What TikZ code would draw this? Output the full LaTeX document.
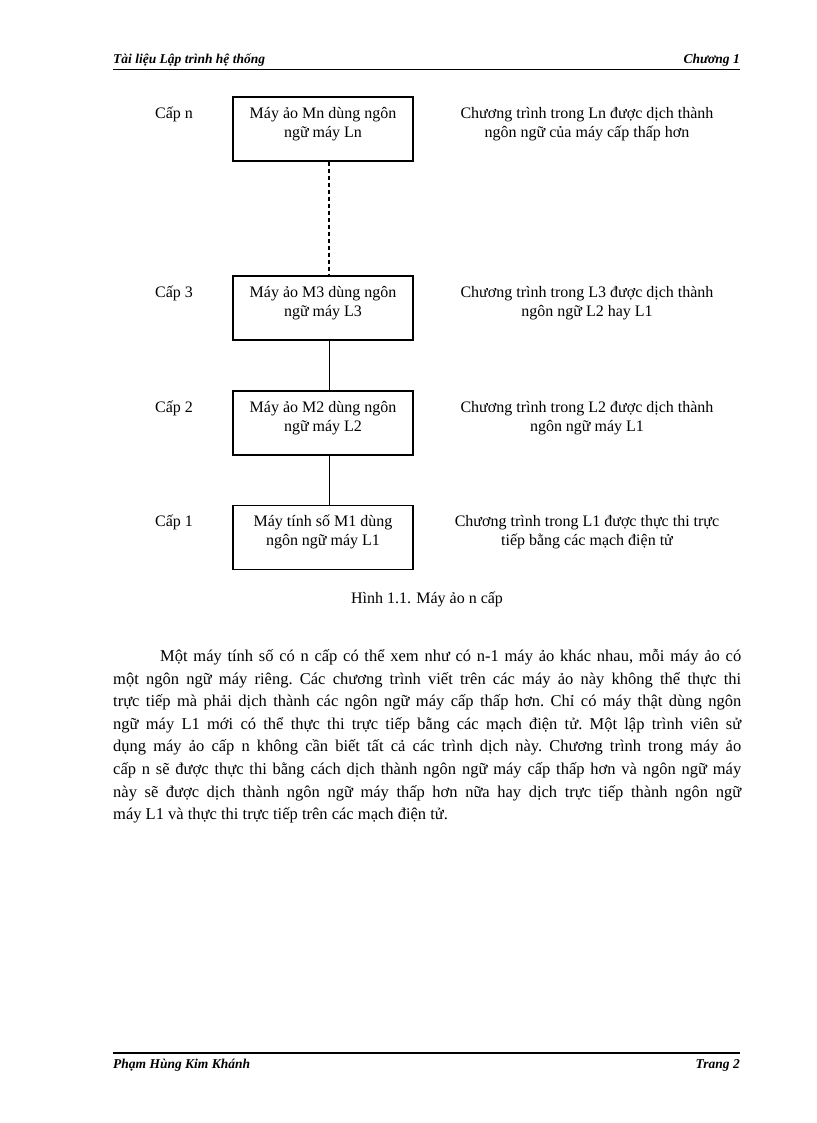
\documentclass[tikz,border=0pt]{standalone}
\usepackage{fontspec}
\setmainfont{Liberation Serif}
\newcommand\twolines[2]{\raisebox{5pt}[\height][\depth]{\begin{tabular}{@{}c@{}}#1\\#2\end{tabular}}}
\begin{document}
\begin{tikzpicture}[x=1pt,y=-1pt,
  box/.style={draw,line width=1.4pt,minimum width=180pt,minimum height=64pt,inner sep=0pt,align=center,font=\fontsize{16}{19.2}\selectfont},
  lvl/.style={anchor=west,inner sep=0pt,font=\fontsize{16}{19.5}\selectfont},
  desc/.style={align=center,inner sep=0pt,font=\fontsize{16}{19.5}\selectfont},
  hdr/.style={inner sep=0pt,font=\fontsize{13.5}{16}\selectfont\bfseries\itshape},
  link/.style={line width=1pt}]
\useasboundingbox (0,0) rectangle (816,1123);
% header
\node[hdr,anchor=west] (hl) at (113,60) {Tài liệu Lập trình hệ thống};
\node[hdr,anchor=east] (hr) at (740,60) {Chương 1};
\coordinate (hrA) at (113,69.5);
\coordinate (hrB) at (740,69.5);
\draw[line width=1.2pt] (hrA) -- (hrB);
% boxes
\node[box] (bn) at (323,129) {\twolines{Máy ảo Mn dùng ngôn}{ngữ máy Ln}};
\node[box] (b3) at (323,308) {\twolines{Máy ảo M3 dùng ngôn}{ngữ máy L3}};
\node[box] (b2) at (323,423) {\twolines{Máy ảo M2 dùng ngôn}{ngữ máy L2}};
\node[box] (b1) at (323,537.5) {\twolines{Máy tính số M1 dùng}{ngôn ngữ máy L1}};
\draw[line width=1.6pt,dash pattern=on 4pt off 3pt] ([xshift=6pt]bn.south) -- ([xshift=6pt]b3.north);
\draw[link] ([xshift=6pt]b3.south) -- ([xshift=6pt]b2.north);
\draw[link] ([xshift=6pt]b2.south) -- ([xshift=6pt]b1.north);
% levels
\node[lvl] (ln) at (155,114) {Cấp n};
\node[lvl] (l3) at (155,293) {Cấp 3};
\node[lvl] (l2) at (155,408) {Cấp 2};
\node[lvl] (l1) at (155,522) {Cấp 1};
% descriptions
\node[desc] (dn) at (587,124) {Chương trình trong Ln được dịch thành\\ngôn ngữ của máy cấp thấp hơn};
\node[desc] (d3) at (587,303) {Chương trình trong L3 được dịch thành\\ngôn ngữ L2 hay L1};
\node[desc] (d2) at (587,418) {Chương trình trong L2 được dịch thành\\ngôn ngữ máy L1};
\node[desc] (d1) at (587,532) {Chương trình trong L1 được thực thi trực\\tiếp bằng các mạch điện tử};
% caption
\node[desc] (cap) at (427,599) {Hình 1.1. Máy ảo n cấp};
% paragraph
\node[anchor=north west,inner sep=0pt,text width=628pt,align=justify,font=\fontsize{16.5}{22.6}\selectfont] (par) at (113,649) {\frenchspacing\parindent=47pt\indent Một máy tính số có n cấp có thể xem như có n-1 máy ảo khác nhau, mỗi máy ảo có\linebreak
một ngôn ngữ máy riêng. Các chương trình viết trên các máy ảo này không thể thực thi\linebreak
trực tiếp mà phải dịch thành các ngôn ngữ máy cấp thấp hơn. Chỉ có máy thật dùng ngôn\linebreak
ngữ máy L1 mới có thể thực thi trực tiếp bằng các mạch điện tử. Một lập trình viên sử\linebreak
dụng máy ảo cấp n không cần biết tất cả các trình dịch này. Chương trình trong máy ảo\linebreak
cấp n sẽ được thực thi bằng cách dịch thành ngôn ngữ máy cấp thấp hơn và ngôn ngữ máy\linebreak
này sẽ được dịch thành ngôn ngữ máy thấp hơn nữa hay dịch trực tiếp thành ngôn ngữ\linebreak
máy L1 và thực thi trực tiếp trên các mạch điện tử.};
% footer
\coordinate (frA) at (113,1053);
\coordinate (frB) at (740,1053);
\draw[line width=2.2pt] (frA) -- (frB);
\node[hdr,anchor=west] (fl) at (113,1065) {Phạm Hùng Kim Khánh};
\node[hdr,anchor=east] (fr) at (740,1065) {Trang 2};
\end{tikzpicture}
\end{document}
